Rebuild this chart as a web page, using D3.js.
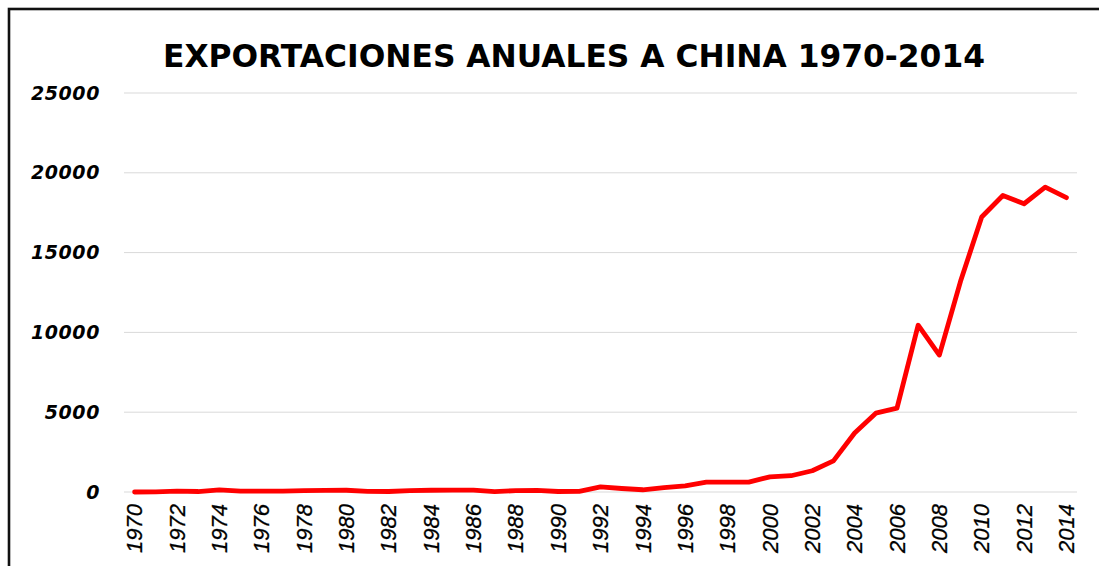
<!DOCTYPE html>
<html>
<head>
<meta charset="utf-8">
<script src="https://cdn.jsdelivr.net/npm/d3@7"></script>
<style>
  body { margin: 0; background: #fff; }
  svg { display: block; }
</style>
</head>
<body>
<script>
// exportaciones anuales a China, 1970-2014
const years = d3.range(1970, 2015);
const exports = [
  0, 10, 50, 30, 130, 60, 50, 60, 80, 100,
  110, 40, 30, 90, 110, 120, 120, 20, 90, 100,
  30, 40, 320, 220, 140, 280, 390, 620, 620, 620,
  950, 1020, 1330, 1950, 3700, 4940, 5250, 10450, 8580, 13200,
  17230, 18580, 18060, 19100, 18440
];
const yTicks = [0, 5000, 10000, 15000, 20000, 25000];
const tickYears = years.filter(y => (y - 1970) % 2 === 0);
const title = "EXPORTACIONES ANUALES A CHINA 1970-2014";

const W = 1099, H = 566;
const plot = { left: 124, right: 1077, top: 93, bottom: 492 };

const svg = d3.select("body").append("svg")
  .attr("width", W)
  .attr("height", H);

// frame of the chart area (runs off right and bottom)
svg.append("rect")
  .attr("x", 9).attr("y", 9)
  .attr("width", W + 20).attr("height", H + 20)
  .attr("fill", "none")
  .attr("stroke", "#111")
  .attr("stroke-width", 2.6);

const x = d3.scaleBand()
  .domain(years)
  .range([plot.left, plot.right]);

const y = d3.scaleLinear()
  .domain([0, 25000])
  .range([plot.bottom, plot.top]);

// horizontal grid
svg.append("g")
  .selectAll("line")
  .data(yTicks)
  .join("line")
  .attr("x1", plot.left)
  .attr("x2", plot.right)
  .attr("y1", d => y(d))
  .attr("y2", d => y(d))
  .attr("stroke", "#d9d9d9")
  .attr("stroke-width", 1);

// y axis labels
const yAxis = svg.append("g")
  .attr("transform", "translate(100,0)")
  .call(d3.axisLeft(y).tickValues(yTicks).tickFormat(d3.format("d")).tickSize(0).tickPadding(0));
yAxis.select(".domain").remove();
yAxis.selectAll("text")
  .attr("font-family", "'DejaVu Sans', Verdana, sans-serif")
  .attr("font-size", 19)
  .attr("font-weight", "bold")
  .attr("font-style", "italic")
  .attr("letter-spacing", 0.6)
  .attr("fill", "#000");

// x axis labels, rotated
const xAxis = svg.append("g")
  .attr("transform", "translate(0," + (plot.bottom + 12) + ")")
  .call(d3.axisBottom(x).tickValues(tickYears).tickSize(0).tickPadding(0));
xAxis.select(".domain").remove();
xAxis.selectAll("text")
  .attr("font-family", "'Liberation Sans', Arial, sans-serif")
  .attr("font-size", 22)
  .attr("font-style", "italic")
  .attr("fill", "#000")
  .attr("stroke", "#000")
  .attr("stroke-width", 0.3)
  .attr("text-anchor", "end")
  .attr("dy", "0.35em")
  .attr("transform", "rotate(-90)")
  .attr("x", 0)
  .attr("y", 0);

// line
const line = d3.line()
  .x((d, i) => x(years[i]) + x.bandwidth() / 2)
  .y(d => y(d));

svg.append("path")
  .datum(exports)
  .attr("d", line)
  .attr("fill", "none")
  .attr("stroke", "#ff0000")
  .attr("stroke-width", 4.8)
  .attr("stroke-linejoin", "round")
  .attr("stroke-linecap", "round");

// title
svg.append("text")
  .attr("x", 574)
  .attr("y", 67)
  .attr("text-anchor", "middle")
  .attr("font-family", "'DejaVu Sans', Verdana, sans-serif")
  .attr("font-size", 32)
  .attr("font-weight", "bold")
  .attr("textLength", 822)
  .attr("lengthAdjust", "spacingAndGlyphs")
  .attr("fill", "#000")
  .text(title);
</script>
</body>
</html>
